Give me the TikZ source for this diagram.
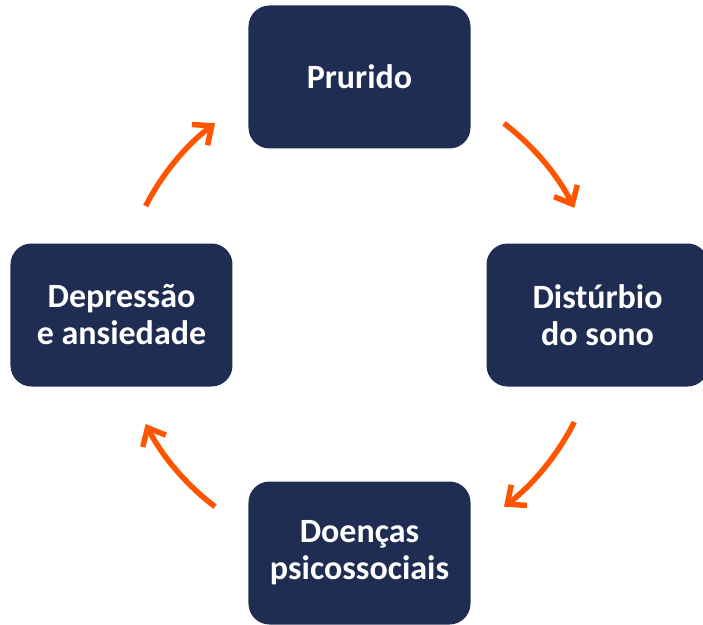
\documentclass[tikz,border=0pt]{standalone}
\usepackage{fontspec}
\setmainfont{Carlito}
\usepackage{xcolor}
\usepackage{tikz}
\usetikzlibrary{arrows.meta, positioning}

\definecolor{cicloblue}{HTML}{202D52}
\definecolor{cicloorange}{HTML}{FF5400}

\begin{document}
\begin{tikzpicture}[
  x=1pt, y=1pt,
  ciclonode/.style = {fill=cicloblue, rounded corners=21pt,
                      minimum width=222pt, minimum height=143pt,
                      text=white, align=center,
                      font=\fontsize{34}{37}\selectfont\bfseries},
  cicloarr/.style  = {-{Straight Barb[length=15pt,width=26pt]},
                      line width=5.5pt, cicloorange, looseness=0.85},
]
\clip (-359.5,-309) rectangle (343.5,315);

%% ── Stages of the cycle ───────────────────────────────────────────
\node[ciclonode] (prur) at (90:238)  {Prurido};
\node[ciclonode] (sono) at (0:238)   {Distúrbio\\do sono};
\node[ciclonode] (psic) at (-90:238) {Doenças\\psicossociais};
\node[ciclonode] (depr) at (180:238) {Depressão\\e ansiedade};

%% ── Arc end points ────────────────────────────────────────────────
\coordinate (a1s) at (53:240);   \coordinate (a1e) at (26.5:240);
\coordinate (a2s) at (-26.5:240); \coordinate (a2e) at (-53:240);
\coordinate (a3s) at (-127:240); \coordinate (a3e) at (-153:240);
\coordinate (a4s) at (153:240);  \coordinate (a4e) at (127:240);

%% ── Cycle arrows ──────────────────────────────────────────────────
\draw[cicloarr] (a1s) to[bend left=13] (a1e);
\draw[cicloarr] (a2s) to[bend left=13] (a2e);
\draw[cicloarr] (a3s) to[bend left=13] (a3e);
\draw[cicloarr] (a4s) to[bend left=13] (a4e);

\end{tikzpicture}
\end{document}
